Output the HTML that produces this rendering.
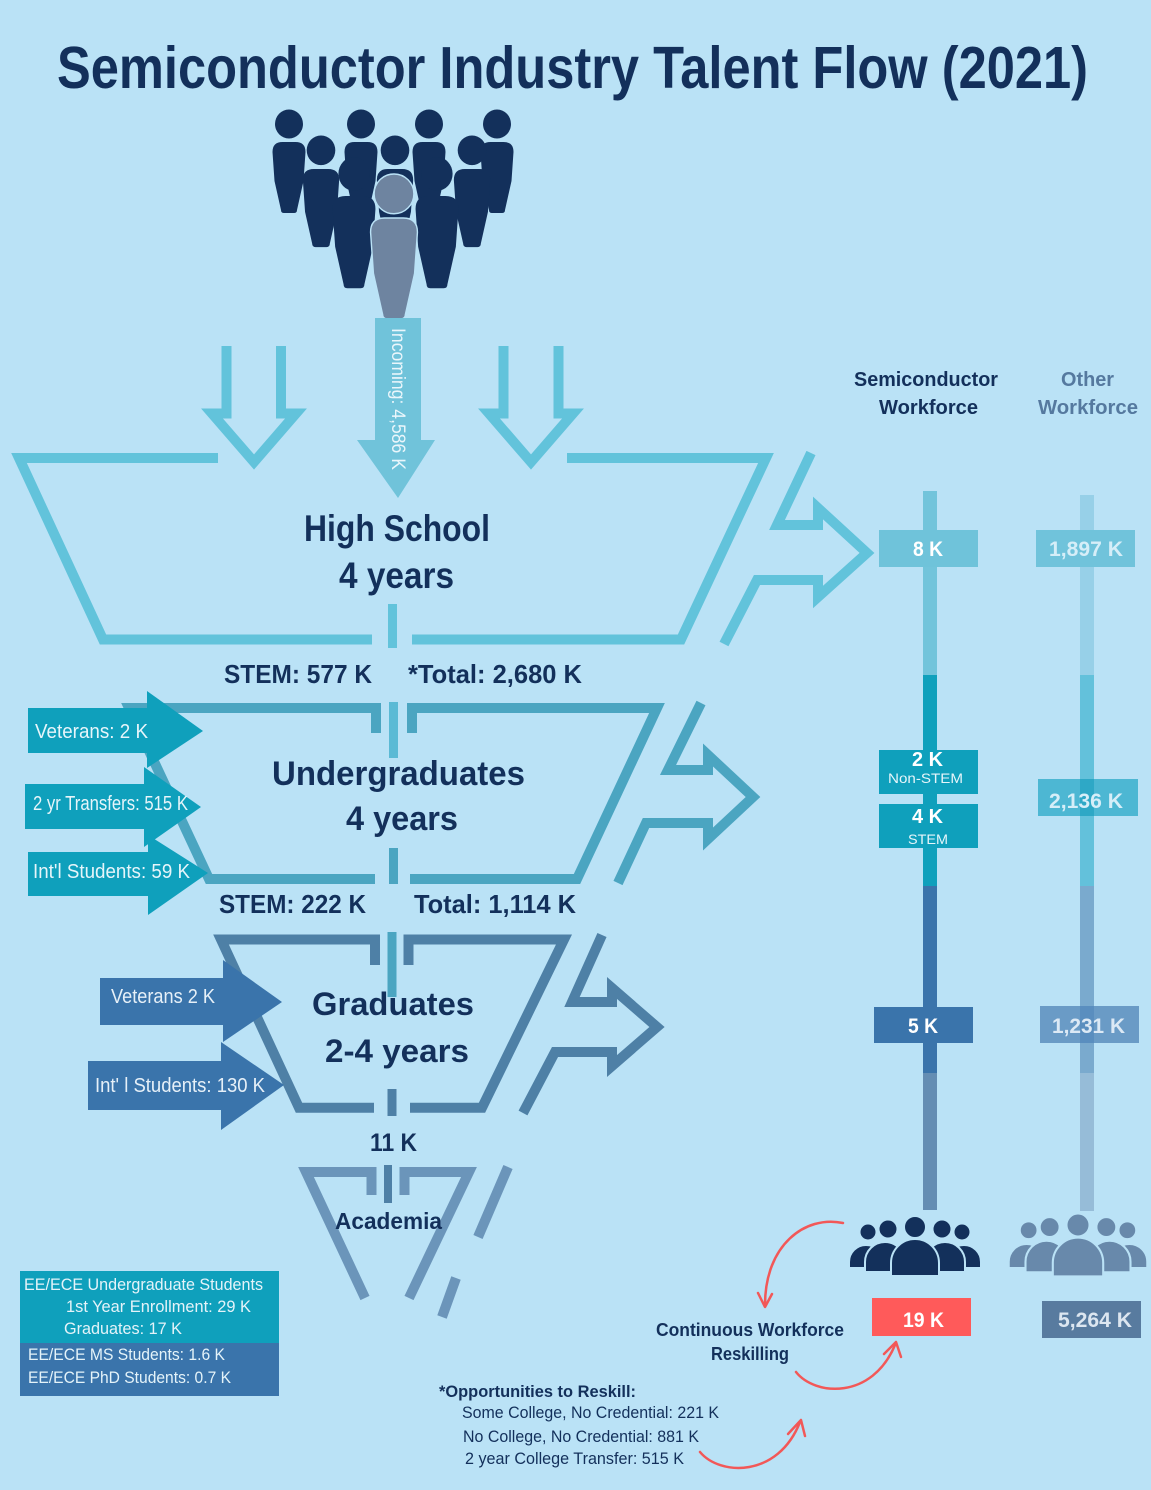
<!DOCTYPE html>
<html><head><meta charset="utf-8"><style>
html,body{margin:0;padding:0;background:#BAE2F6;}
svg{display:block;}
text{font-family:"Liberation Sans",sans-serif;}
</style></head><body>
<svg width="1151" height="1490" viewBox="0 0 1151 1490" xmlns="http://www.w3.org/2000/svg">
<rect x="0" y="0" width="1151" height="1490" fill="#BAE2F6"/>

<!-- Title -->
<text x="57" y="88" font-size="59" font-weight="bold" fill="#13305B" textLength="1031" lengthAdjust="spacingAndGlyphs">Semiconductor Industry Talent Flow (2021)</text>

<!-- Top people group -->
<g fill="#13305B">
  <!-- back row -->
  <g transform="translate(289,142)"><ellipse cx="0" cy="-18" rx="14" ry="14.5"/><path d="M-16.5 10 Q-16.5 0 -6.5 0 L6.5 0 Q16.5 0 16.5 10 L14.5 39 L8 68 Q8 71 5 71 L-5 71 Q-8 71 -8 68 L-14.5 39 Z"/></g>
  <g transform="translate(361,142)"><ellipse cx="0" cy="-18" rx="14" ry="14.5"/><path d="M-16.5 10 Q-16.5 0 -6.5 0 L6.5 0 Q16.5 0 16.5 10 L14.5 39 L8 68 Q8 71 5 71 L-5 71 Q-8 71 -8 68 L-14.5 39 Z"/></g>
  <g transform="translate(429,142)"><ellipse cx="0" cy="-18" rx="14" ry="14.5"/><path d="M-16.5 10 Q-16.5 0 -6.5 0 L6.5 0 Q16.5 0 16.5 10 L14.5 39 L8 68 Q8 71 5 71 L-5 71 Q-8 71 -8 68 L-14.5 39 Z"/></g>
  <g transform="translate(497,142)"><ellipse cx="0" cy="-18" rx="14" ry="14.5"/><path d="M-16.5 10 Q-16.5 0 -6.5 0 L6.5 0 Q16.5 0 16.5 10 L14.5 39 L8 68 Q8 71 5 71 L-5 71 Q-8 71 -8 68 L-14.5 39 Z"/></g>
  <!-- second row -->
  <g transform="translate(321,169) scale(1.1)"><ellipse cx="0" cy="-17" rx="13" ry="13.5"/><path d="M-16.5 10 Q-16.5 0 -6.5 0 L6.5 0 Q16.5 0 16.5 10 L14.5 39 L8 68 Q8 71 5 71 L-5 71 Q-8 71 -8 68 L-14.5 39 Z"/></g>
  <g transform="translate(395,169) scale(1.1)"><ellipse cx="0" cy="-17" rx="13" ry="13.5"/><path d="M-16.5 10 Q-16.5 0 -6.5 0 L6.5 0 Q16.5 0 16.5 10 L14.5 39 L8 68 Q8 71 5 71 L-5 71 Q-8 71 -8 68 L-14.5 39 Z"/></g>
  <g transform="translate(472,169) scale(1.1)"><ellipse cx="0" cy="-17" rx="13" ry="13.5"/><path d="M-16.5 10 Q-16.5 0 -6.5 0 L6.5 0 Q16.5 0 16.5 10 L14.5 39 L8 68 Q8 71 5 71 L-5 71 Q-8 71 -8 68 L-14.5 39 Z"/></g>
  <!-- third row -->
  <g transform="translate(354,196) scale(1.3)"><ellipse cx="0" cy="-17" rx="12" ry="13"/><path d="M-16.5 10 Q-16.5 0 -6.5 0 L6.5 0 Q16.5 0 16.5 10 L14.5 39 L8 68 Q8 71 5 71 L-5 71 Q-8 71 -8 68 L-14.5 39 Z"/></g>
  <g transform="translate(437,196) scale(1.3)"><ellipse cx="0" cy="-17" rx="12" ry="13"/><path d="M-16.5 10 Q-16.5 0 -6.5 0 L6.5 0 Q16.5 0 16.5 10 L14.5 39 L8 68 Q8 71 5 71 L-5 71 Q-8 71 -8 68 L-14.5 39 Z"/></g>
</g>
<!-- gray front person -->
<g fill="#6E84A0" stroke="#BAE2F6" stroke-width="1">
  <g transform="translate(394,218) scale(1.42)"><ellipse cx="0" cy="-17" rx="14" ry="14"/><path d="M-16.5 10 Q-16.5 0 -6.5 0 L6.5 0 Q16.5 0 16.5 10 L14.5 39 L8 68 Q8 71 5 71 L-5 71 Q-8 71 -8 68 L-14.5 39 Z"/></g>
</g>

<!-- Incoming arrow -->
<polygon points="375,318 421,318 421,440 435,440 398,498 357,440 375,440" fill="#70C3DA"/>
<text transform="translate(392,328) rotate(90)" font-size="19" fill="#EAF6FB" textLength="142" lengthAdjust="spacingAndGlyphs">Incoming: 4,586 K</text>

<!-- Hollow down arrows -->
<g fill="none" stroke="#62C3DB" stroke-width="10" stroke-linejoin="miter">
  <path d="M226.5 346 L226.5 413.5 L212 413.5 L254 462 L296 413.5 L281 413.5 L281 346"/>
  <path d="M503.5 346 L503.5 413.5 L489 413.5 L531 462 L573 413.5 L558.5 413.5 L558.5 346"/>
</g>

<!-- High School funnel -->
<g fill="none" stroke="#62C3DB" stroke-width="10" stroke-linejoin="miter">
  <path d="M218 458 L19 458 L103 639.5 L372 639.5"/>
  <path d="M412 639.5 L681 639.5 L766 458 L567 458"/>
  <path d="M811 453 L777 525 L818 525 L818 508 L867 553 L818 597 L818 580 L757 580 L724 644"/>
</g>
<rect x="388" y="604" width="9" height="44" fill="#62C3DB"/>

<text x="304" y="541" font-size="37" font-weight="bold" fill="#13305B" textLength="186" lengthAdjust="spacingAndGlyphs">High School</text>
<text x="339" y="588" font-size="37" font-weight="bold" fill="#13305B" textLength="115" lengthAdjust="spacingAndGlyphs">4 years</text>
<text x="224" y="683" font-size="26" font-weight="bold" fill="#13305B" textLength="148" lengthAdjust="spacingAndGlyphs">STEM: 577 K</text>
<text x="408" y="683" font-size="26" font-weight="bold" fill="#13305B" textLength="174" lengthAdjust="spacingAndGlyphs">*Total: 2,680 K</text>

<!-- Undergrad funnel -->
<g fill="none" stroke="#4BA5C1" stroke-width="10" stroke-linejoin="miter">
  <path d="M376 733 L376 708 L129 708 L209 879 L375 879"/>
  <path d="M412 733 L412 708 L657 708 L577 879 L410 879"/>
  <path d="M701 703 L668 770 L708 770 L708 755 L753 797 L708 839 L708 823 L646 823 L618 883"/>
</g>
<rect x="389" y="702" width="9" height="56" fill="#5BBAD5"/>
<rect x="389" y="848" width="9" height="36" fill="#4BA5C1"/>

<!-- Undergrad input arrows -->
<g fill="#0FA0BC">
  <polygon points="28,708 147,708 147,691 203,731 147,768 147,753 28,753"/>
  <polygon points="25,784 144,784 144,767 201,807 144,847 144,829 25,829"/>
  <polygon points="28,852 148,852 148,835 208,873 148,915 148,896 28,896"/>
</g>
<text x="35" y="738" font-size="20" fill="#E6F5FA" textLength="113" lengthAdjust="spacingAndGlyphs">Veterans: 2 K</text>
<text x="33" y="810" font-size="20" fill="#E6F5FA" textLength="155" lengthAdjust="spacingAndGlyphs">2 yr Transfers: 515 K</text>
<text x="33" y="878" font-size="20" fill="#E6F5FA" textLength="157" lengthAdjust="spacingAndGlyphs">Int'l Students: 59 K</text>

<text x="272" y="785" font-size="34" font-weight="bold" fill="#13305B" textLength="253" lengthAdjust="spacingAndGlyphs">Undergraduates</text>
<text x="346" y="830" font-size="34" font-weight="bold" fill="#13305B" textLength="112" lengthAdjust="spacingAndGlyphs">4 years</text>
<text x="219" y="913" font-size="26" font-weight="bold" fill="#13305B" textLength="147" lengthAdjust="spacingAndGlyphs">STEM: 222 K</text>
<text x="414" y="913" font-size="26" font-weight="bold" fill="#13305B" textLength="162" lengthAdjust="spacingAndGlyphs">Total: 1,114 K</text>

<!-- Graduate funnel -->
<g fill="none" stroke="#4E80A6" stroke-width="10" stroke-linejoin="miter">
  <path d="M375 965 L375 939.5 L221 939.5 L299 1107.7 L374 1107.7"/>
  <path d="M408.5 965 L408.5 939.5 L564 939.5 L482 1107.7 L410 1107.7"/>
  <path d="M602 935 L572 1002 L612 1002 L612 988 L657 1027 L612 1066 L612 1052 L555 1052 L523 1113"/>
</g>
<rect x="387.5" y="932" width="9" height="65" fill="#4BA5C1"/>
<rect x="387.5" y="1089" width="9" height="27" fill="#4E80A6"/>

<!-- Graduate input arrows -->
<g fill="#3A74AB">
  <polygon points="100,978 223,978 223,960 282,1002 223,1042 223,1025 100,1025"/>
  <polygon points="88,1061 221,1061 221,1042 284,1085 221,1130 221,1110 88,1110"/>
</g>
<text x="111" y="1003" font-size="20" fill="#E6F0F8" textLength="104" lengthAdjust="spacingAndGlyphs">Veterans 2 K</text>
<text x="95" y="1092" font-size="20" fill="#E6F0F8" textLength="170" lengthAdjust="spacingAndGlyphs">Int' l Students: 130 K</text>

<text x="312" y="1015" font-size="32" font-weight="bold" fill="#13305B" textLength="162" lengthAdjust="spacingAndGlyphs">Graduates</text>
<text x="325" y="1062" font-size="32" font-weight="bold" fill="#13305B" textLength="144" lengthAdjust="spacingAndGlyphs">2-4 years</text>
<text x="370" y="1151" font-size="25" font-weight="bold" fill="#13305B" textLength="47" lengthAdjust="spacingAndGlyphs">11 K</text>

<!-- Academia funnel -->
<g fill="none" stroke="#6B95BA" stroke-width="10" stroke-linejoin="miter">
  <path d="M371.5 1195 L371.5 1172 L306 1172 L365 1298"/>
  <path d="M404.5 1195 L404.5 1172 L469 1172 L409 1298"/>
  <path d="M508 1167 L478 1237"/>
  <path d="M456 1278 L442 1317"/>
</g>
<rect x="384" y="1165" width="8" height="38" fill="#4E80A6"/>
<text x="335" y="1229" font-size="23" font-weight="bold" fill="#13305B" textLength="107" lengthAdjust="spacingAndGlyphs">Academia</text>

<!-- Bottom-left info box -->
<rect x="20" y="1271" width="259" height="72" fill="#0FA0BC"/>
<rect x="20" y="1343" width="259" height="53" fill="#3A74AB"/>
<g font-size="17" fill="#E4F3F9">
  <text x="24" y="1290" textLength="239" lengthAdjust="spacingAndGlyphs">EE/ECE Undergraduate Students</text>
  <text x="66" y="1312" textLength="185" lengthAdjust="spacingAndGlyphs">1st Year Enrollment: 29 K</text>
  <text x="64" y="1334" textLength="118" lengthAdjust="spacingAndGlyphs">Graduates: 17 K</text>
  <text x="28" y="1360" textLength="197" lengthAdjust="spacingAndGlyphs">EE/ECE MS Students: 1.6 K</text>
  <text x="28" y="1383" textLength="203" lengthAdjust="spacingAndGlyphs">EE/ECE PhD Students: 0.7 K</text>
</g>

<!-- Right headers -->
<text x="854" y="386" font-size="20" font-weight="bold" fill="#13305B" textLength="144" lengthAdjust="spacingAndGlyphs">Semiconductor</text>
<text x="879" y="414" font-size="20" font-weight="bold" fill="#13305B" textLength="99" lengthAdjust="spacingAndGlyphs">Workforce</text>
<text x="1061" y="386" font-size="20" font-weight="bold" fill="#55799F" textLength="53" lengthAdjust="spacingAndGlyphs">Other</text>
<text x="1038" y="414" font-size="20" font-weight="bold" fill="#55799F" textLength="100" lengthAdjust="spacingAndGlyphs">Workforce</text>

<!-- Bars -->
<rect x="923" y="491" width="14" height="184" fill="#72C4DB"/>
<rect x="923" y="675" width="14" height="211" fill="#0FA0BC"/>
<rect x="923" y="886" width="14" height="187" fill="#3A74AB"/>
<rect x="923" y="1073" width="14" height="137" fill="#648DB3"/>
<rect x="1080" y="495" width="14" height="180" fill="#97D0E8"/>
<rect x="1080" y="675" width="14" height="211" fill="#63C1DB"/>
<rect x="1080" y="886" width="14" height="187" fill="#7AAACE"/>
<rect x="1080" y="1073" width="14" height="138" fill="#96BCD8"/>

<!-- Boxes -->
<rect x="879" y="530" width="99" height="37" fill="#6FC3DA"/>
<text x="913" y="556" font-size="21" font-weight="bold" fill="#FFFFFF" textLength="30" lengthAdjust="spacingAndGlyphs">8 K</text>
<rect x="1036" y="530" width="99" height="37" fill="#70C3DB"/>
<text x="1049" y="556" font-size="21" font-weight="bold" fill="#D6EEF8" textLength="74" lengthAdjust="spacingAndGlyphs">1,897 K</text>

<rect x="879" y="750" width="99" height="44" fill="#0FA0BC"/>
<text x="912" y="766" font-size="20" font-weight="bold" fill="#FFFFFF" textLength="31" lengthAdjust="spacingAndGlyphs">2 K</text>
<text x="888" y="783" font-size="14" fill="#E6F5FA" textLength="75" lengthAdjust="spacingAndGlyphs">Non-STEM</text>
<rect x="879" y="804" width="99" height="44" fill="#0FA0BC"/>
<text x="912" y="823" font-size="20" font-weight="bold" fill="#FFFFFF" textLength="31" lengthAdjust="spacingAndGlyphs">4 K</text>
<text x="908" y="844" font-size="14" fill="#E6F5FA" textLength="40" lengthAdjust="spacingAndGlyphs">STEM</text>

<rect x="1038" y="779" width="100" height="37" fill="#4DB7D3"/>
<rect x="1080" y="779" width="14" height="37" fill="#2EA8C6"/>
<text x="1049" y="808" font-size="21" font-weight="bold" fill="#D6EEF8" textLength="74" lengthAdjust="spacingAndGlyphs">2,136 K</text>

<rect x="874" y="1007" width="99" height="36" fill="#3A74AB"/>
<text x="908" y="1033" font-size="21" font-weight="bold" fill="#FFFFFF" textLength="30" lengthAdjust="spacingAndGlyphs">5 K</text>
<rect x="1040" y="1006" width="99" height="37" fill="#6A9BC6"/>
<rect x="1080" y="1006" width="14" height="37" fill="#5A8EBF"/>
<text x="1052" y="1033" font-size="21" font-weight="bold" fill="#DCE9F5" textLength="73" lengthAdjust="spacingAndGlyphs">1,231 K</text>

<!-- Bottom people icons -->
<g fill="#13305B" stroke="#BAE2F6" stroke-width="2">
  <circle cx="868" cy="1232" r="8.5"/>
  <path d="M849 1268 L849 1262 A17 17 0 0 1 883 1262 L883 1268 Z"/>
  <circle cx="962" cy="1232" r="8.5"/>
  <path d="M947 1268 L947 1262 A17 17 0 0 1 981 1262 L981 1268 Z"/>
  <circle cx="888" cy="1229" r="9.5"/>
  <path d="M865 1272 L865 1262 A20 20 0 0 1 905 1262 L905 1272 Z"/>
  <circle cx="942" cy="1229" r="9.5"/>
  <path d="M925 1272 L925 1262 A20 20 0 0 1 965 1262 L965 1272 Z"/>
  <circle cx="915" cy="1227" r="11"/>
  <path d="M891 1276 L891 1263 A24 24 0 0 1 939 1263 L939 1276 Z"/>
</g>
<g fill="#6889AB" stroke="#BAE2F6" stroke-width="2" transform="translate(1078,1225) scale(1.05) translate(-915,-1227)">
  <circle cx="868" cy="1232" r="8.5"/>
  <path d="M849 1268 L849 1262 A17 17 0 0 1 883 1262 L883 1268 Z"/>
  <circle cx="962" cy="1232" r="8.5"/>
  <path d="M947 1268 L947 1262 A17 17 0 0 1 981 1262 L981 1268 Z"/>
  <circle cx="888" cy="1229" r="9.5"/>
  <path d="M865 1272 L865 1262 A20 20 0 0 1 905 1262 L905 1272 Z"/>
  <circle cx="942" cy="1229" r="9.5"/>
  <path d="M925 1272 L925 1262 A20 20 0 0 1 965 1262 L965 1272 Z"/>
  <circle cx="915" cy="1227" r="11"/>
  <path d="M891 1276 L891 1263 A24 24 0 0 1 939 1263 L939 1276 Z"/>
</g>

<rect x="872" y="1298" width="99" height="38" fill="#FF5A5A"/>
<text x="903" y="1327" font-size="21" font-weight="bold" fill="#FFFFFF" textLength="41" lengthAdjust="spacingAndGlyphs">19 K</text>
<rect x="1042" y="1301" width="99" height="37" fill="#587B9F"/>
<text x="1058" y="1327" font-size="21" font-weight="bold" fill="#DCE6F0" textLength="74" lengthAdjust="spacingAndGlyphs">5,264 K</text>

<!-- Reskilling text -->
<text x="656" y="1336" font-size="18" font-weight="bold" fill="#13305B" textLength="188" lengthAdjust="spacingAndGlyphs">Continuous  Workforce</text>
<text x="711" y="1360" font-size="18" font-weight="bold" fill="#13305B" textLength="78" lengthAdjust="spacingAndGlyphs">Reskilling</text>
<text x="439" y="1397" font-size="17" font-weight="bold" fill="#13305B" textLength="197" lengthAdjust="spacingAndGlyphs">*Opportunities to Reskill:</text>
<g font-size="17" fill="#13305B">
  <text x="462" y="1418" textLength="257" lengthAdjust="spacingAndGlyphs">Some College, No Credential: 221 K</text>
  <text x="463" y="1442" textLength="236" lengthAdjust="spacingAndGlyphs">No College, No Credential: 881 K</text>
  <text x="465" y="1464" textLength="219" lengthAdjust="spacingAndGlyphs">2 year College Transfer: 515 K</text>
</g>

<!-- Red curved arrows -->
<g fill="none" stroke="#F25858" stroke-width="2.5" stroke-linecap="round" stroke-linejoin="round">
  <path d="M843 1223 C805 1215 765 1245 765 1305"/>
  <path d="M758 1293 L765 1307 L772 1294"/>
  <path d="M796 1372 C815 1396 872 1400 895 1345"/>
  <path d="M884 1354 L896 1342 L901 1357"/>
  <path d="M700 1452 C720 1476 778 1478 800 1422"/>
  <path d="M788 1434 L801 1420 L805 1436"/>
</g>
</svg>
</body></html>
